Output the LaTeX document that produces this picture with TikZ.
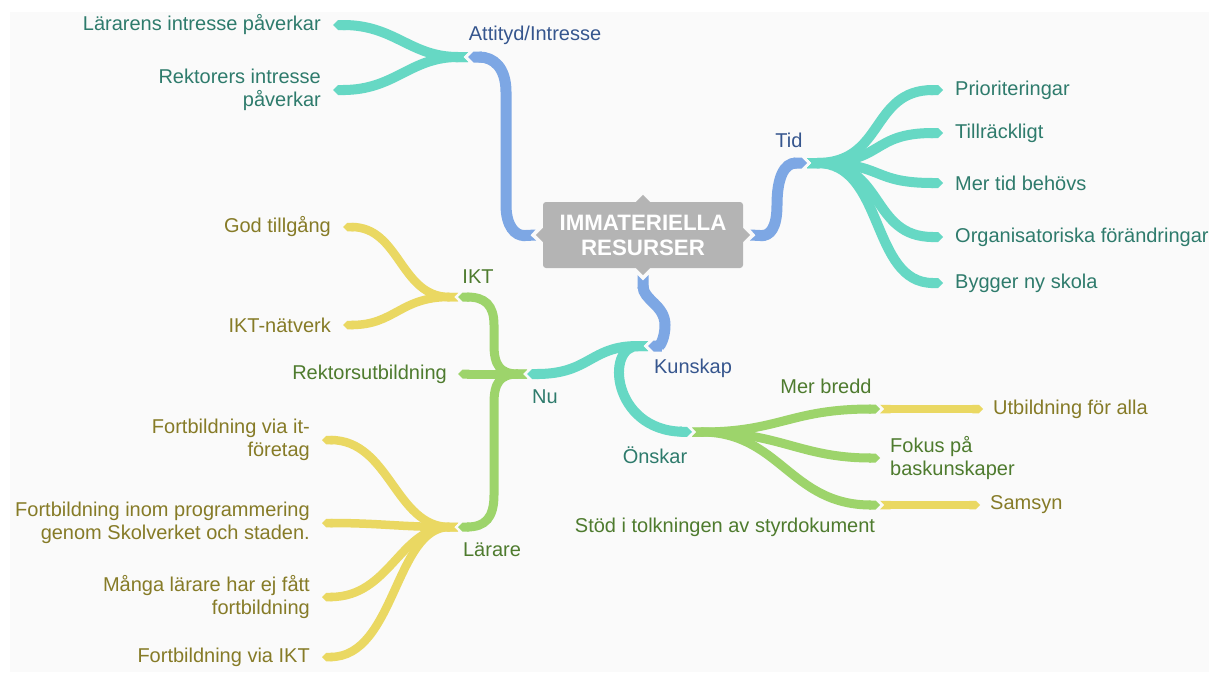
\documentclass[tikz,border=0pt]{standalone}
\usepackage{fontspec}
\setmainfont{Liberation Sans}
\usetikzlibrary{arrows.meta,positioning}
\definecolor{mmblue}{HTML}{7DA7E4}
\definecolor{mmteal}{HTML}{66D8C4}
\definecolor{mmgreen}{HTML}{9DD46B}
\definecolor{mmyellow}{HTML}{EAD862}
\definecolor{txblue}{HTML}{36568E}
\definecolor{txteal}{HTML}{2E7B6C}
\definecolor{txgreen}{HTML}{4E7B2E}
\definecolor{txyellow}{HTML}{867B27}
\definecolor{rootgray}{HTML}{B4B4B4}
\definecolor{bggray}{HTML}{FAFAFA}

\begin{document}
\begin{tikzpicture}[
    x=1pt, y=-1pt,
    node distance=12pt,
    every node/.style={font=\fontsize{20}{23.5}\selectfont, inner sep=0pt},
    root/.style={rectangle, fill=rootgray, rounded corners=3pt,
                 minimum width=200pt, minimum height=66pt, align=center,
                 text=white, font=\fontsize{22.3}{25}\selectfont\bfseries},
    stem/.style={line width=11pt, draw=mmblue, {Triangle Cap[reversed]}-{Triangle Cap}},
    bough/.style={line width=10pt, draw=mmteal, {Triangle Cap[reversed]}-{Triangle Cap}},
    twig/.style={line width=9pt, draw=mmgreen, {Triangle Cap[reversed]}-{Triangle Cap}},
    sprig/.style={line width=8.5pt, draw=mmyellow, {Triangle Cap[reversed]}-{Triangle Cap}},
    bluetxt/.style={text=txblue},
    tealtxt/.style={text=txteal},
    greentxt/.style={text=txgreen},
    yellowtxt/.style={text=txyellow}
]
\useasboundingbox (0,0) rectangle (1209,680);
\fill[white] (0,0) rectangle (1209,680);
\fill[bggray] (10,12) rectangle (1209,672);

% Centre
\node[root] (root) at (643,235) {IMMATERIELLA\\RESURSER};
\fill[rootgray] ([xshift=-7pt]root.north) -- ([yshift=7pt]root.north) -- ([xshift=7pt]root.north) -- cycle;
\fill[rootgray] ([yshift=7pt]root.west) -- ([xshift=-7pt]root.west) -- ([yshift=-7pt]root.west) -- cycle;
\fill[rootgray] ([yshift=7pt]root.east) -- ([xshift=7pt]root.east) -- ([yshift=-7pt]root.east) -- cycle;
\fill[rootgray] ([xshift=-7pt]root.south) -- ([yshift=-7pt]root.south) -- ([xshift=7pt]root.south) -- cycle;

% Junctions
\coordinate (att) at (468,57);
\coordinate (tid) at (807,163);
\coordinate (kun) at (648,346);
\coordinate (nu) at (527,374);
\coordinate (ons) at (692,432);
\coordinate (ikt) at (458,297);
\coordinate (lar) at (458,527);
\coordinate (bredd) at (880,409);
\coordinate (fokus) at (880,458);
\coordinate (stod) at (880,505);

% Leaf tips
\coordinate (a1) at (333,25);
\coordinate (a2) at (333,90);
\coordinate (p1) at (943,90);
\coordinate (p2) at (943,133);
\coordinate (p3) at (943,183);
\coordinate (p4) at (943,237);
\coordinate (p5) at (943,283);
\coordinate (rek) at (458,374);
\coordinate (g1) at (343,227);
\coordinate (g2) at (343,325);
\coordinate (f1) at (322,440);
\coordinate (f2) at (322,523);
\coordinate (f3) at (322,597);
\coordinate (f4) at (322,657);
\coordinate (ub) at (983,409);
\coordinate (sam) at (980,505);

% Main branches
\draw[stem] ([xshift=-7pt]root.west) .. controls (515,236) and (506,226) .. (506,205)
    -- (506,92) .. controls (506,68) and (494,57) .. (att);
\draw[stem] ([xshift=7pt]root.east) .. controls (770,236) and (777,228) .. (777,205)
    .. controls (777,178) and (784,163) .. (tid);
\draw[stem] ([yshift=-7pt]root.south) .. controls (643,300) and (665,305) .. (665,325)
    .. controls (665,338) and (660,346) .. (kun);

% Attityd/Intresse
\draw[bough] (att) .. controls (410,57) and (395,25) .. (a1);
\draw[bough] (att) .. controls (410,57) and (395,90) .. (a2);

% Tid
\foreach \p in {p1,p2,p3,p4,p5}
  \draw[bough] (tid) .. controls (885,163) and (870,0|-\p) .. (\p);

% Kunskap
\draw[bough] (kun) .. controls (590,346) and (590,374) .. (nu);
\draw[bough] (kun) .. controls (605,346) and (612,430) .. (ons);

% Nu
\draw[twig] (nu) -- (rek);
\draw[twig] (nu) .. controls (500,374) and (494,365) .. (494,345)
    -- (494,325) .. controls (494,305) and (485,297) .. (ikt);
\draw[twig] (nu) .. controls (500,374) and (494,383) .. (494,403)
    -- (494,495) .. controls (494,518) and (485,527) .. (lar);

% IKT
\draw[sprig] (ikt) .. controls (400,297) and (400,227) .. (g1);
\draw[sprig] (ikt) .. controls (400,297) and (395,325) .. (g2);

% Lärare
\draw[sprig] (lar) .. controls (395,527) and (390,440) .. (f1);
\draw[sprig] (lar) .. controls (400,527) and (380,523) .. (f2);
\draw[sprig] (lar) .. controls (400,527) and (390,597) .. (f3);
\draw[sprig] (lar) .. controls (395,527) and (395,657) .. (f4);

% Önskar
\draw[twig] (ons) .. controls (780,432) and (790,409) .. (bredd);
\draw[twig] (ons) .. controls (780,432) and (800,458) .. (fokus);
\draw[twig] (ons) .. controls (780,432) and (790,505) .. (stod);
\draw[sprig] (bredd) -- (ub);
\draw[sprig] (stod) -- (sam);

% Branch labels
\node[bluetxt] (attl) at (535,35) {Attityd/Intresse};
\node[bluetxt] (tidl) at (789,140) {Tid};
\node[bluetxt] (kunl) at (693,368) {Kunskap};
\node[tealtxt] (nul) at (545,397) {Nu};
\node[tealtxt] (onsl) at (655,455) {Önskar};
\node[greentxt] (iktl) at (478,277) {IKT};
\node[greentxt] (larl) at (492,550) {Lärare};
\node[greentxt] (breddl) at (826,386) {Mer bredd};
\node[greentxt] (stodl) at (725,527) {Stöd i tolkningen av styrdokument};

% Leaf labels
\node[tealtxt, left=of a1] (a1l) {Lärarens intresse påverkar};
\node[tealtxt, left=of a2, align=right] (a2l) {Rektorers intresse\\påverkar};
\node[tealtxt, right=of p1] (p1l) {Prioriteringar};
\node[tealtxt, right=of p2] (p2l) {Tillräckligt};
\node[tealtxt, right=of p3] (p3l) {Mer tid behövs};
\node[tealtxt, right=of p4] (p4l) {Organisatoriska förändringar};
\node[tealtxt, right=of p5] (p5l) {Bygger ny skola};
\node[greentxt, left=11pt of rek] (rekl) {Rektorsutbildning};
\node[yellowtxt, left=of g1] (g1l) {God tillgång};
\node[yellowtxt, left=of g2] (g2l) {IKT-nätverk};
\node[yellowtxt, left=of f1, align=right] (f1l) {Fortbildning via it-\\företag};
\node[yellowtxt, left=of f2, align=right] (f2l) {Fortbildning inom programmering\\genom Skolverket och staden.};
\node[yellowtxt, left=of f3, align=right] (f3l) {Många lärare har ej fått\\fortbildning};
\node[yellowtxt, left=of f4] (f4l) {Fortbildning via IKT};
\node[greentxt, right=10pt of fokus, align=left] (fokusl) {Fokus på\\baskunskaper};
\node[yellowtxt, right=10pt of ub] (ubl) {Utbildning för alla};
\node[yellowtxt, right=10pt of sam] (saml) {Samsyn};

\end{tikzpicture}
\end{document}
